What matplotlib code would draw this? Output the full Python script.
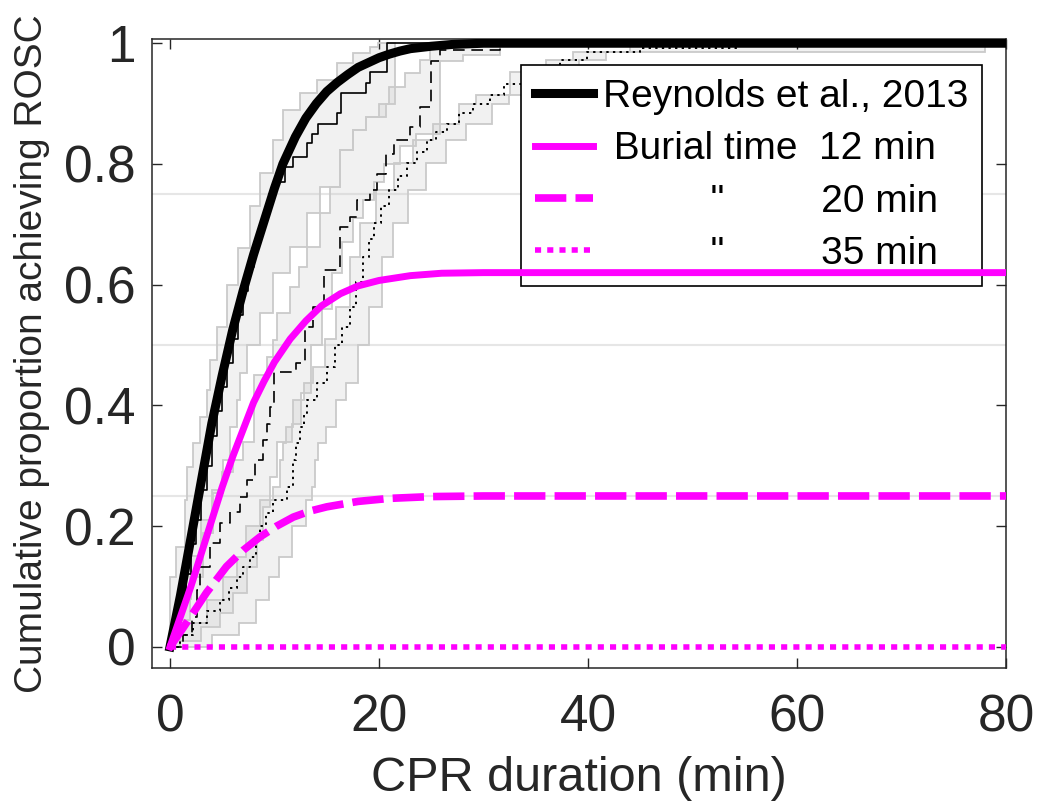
import numpy as np
import matplotlib
matplotlib.use('Agg')
import matplotlib.pyplot as plt

plt.rcParams['font.family'] = ['Liberation Sans', 'DejaVu Sans']

# model curves (Reynolds fit and burial-time curves)
t_rey = [0, 1, 2, 3, 4, 5, 6, 7, 8, 9, 10, 10.8, 12, 13, 14, 15, 16, 17, 18, 19, 20, 21, 22, 23, 25, 27, 30, 80]
v_rey = [0, 0.085, 0.18, 0.275, 0.37, 0.45, 0.525, 0.59, 0.65, 0.705, 0.76, 0.80, 0.845, 0.876, 0.90, 0.92, 0.935, 0.948,
         0.96, 0.968, 0.976, 0.982, 0.987, 0.991, 0.995, 0.998, 1.0, 1.0]

t_b12 = [0, 1, 2, 3, 4, 5, 6, 7, 8, 9, 10, 11.5, 13, 14.5, 16.3, 18, 20, 23, 26, 30, 80]
v_b12 = [0, 0.05, 0.1, 0.155, 0.21, 0.265, 0.315, 0.36, 0.405, 0.44, 0.472, 0.51, 0.54, 0.565, 0.585, 0.598, 0.607,
         0.615, 0.619, 0.62, 0.62]

t_b20 = [0, 1.2, 2.2, 3.5, 5.4, 7.0, 8.6, 10.2, 11.8, 13.4, 15.0, 18.0, 21.0, 25.0, 30.0, 80.0]
v_b20 = [0, 0.03, 0.056, 0.09, 0.133, 0.16, 0.182, 0.2, 0.215, 0.225, 0.232, 0.241, 0.246, 0.249, 0.25, 0.25]

t_b35 = [0, 80.0]
v_b35 = [0, 0]

# Kaplan-Meier style step curves
t_km1 = [0, 0.5, 1.0, 1.5, 2.0, 2.5, 3.0, 3.5, 4.0, 4.5, 5.0, 5.5, 6.0, 6.5, 7.0, 7.5, 8.0, 8.5, 9.0, 9.5, 10.0,
         11.0, 11.8, 13.1, 13.6, 14.2, 16.0, 16.4, 18.8, 19.1, 20.8, 80.0]
v_km1 = [0, 0.03, 0.07, 0.12, 0.17, 0.21, 0.26, 0.30, 0.35, 0.39, 0.43, 0.47, 0.51, 0.55, 0.59, 0.63, 0.66, 0.69, 0.72, 0.75, 0.77,
         0.795, 0.812, 0.834, 0.85, 0.867, 0.884, 0.917, 0.934, 0.953, 1.0, 1.0]

t_km2 = [0, 1.2, 2.1, 2.6, 2.9, 3.8, 4.8, 5.7, 6.7, 7.4, 8.1, 8.9, 9.3, 9.6, 10.0, 12.1, 12.9, 13.7, 14.7, 16.3, 17.2,
         17.9, 19.1, 19.8, 20.7, 21.4, 23.0, 23.9, 25.0, 25.8, 31.6, 80.0]
v_km2 = [0, 0.02, 0.05, 0.094, 0.133, 0.172, 0.205, 0.224, 0.249, 0.276, 0.31, 0.343, 0.37, 0.398, 0.455, 0.47, 0.53, 0.563, 0.624, 0.696, 0.712,
         0.74, 0.757, 0.784, 0.817, 0.84, 0.861, 0.894, 0.97, 0.988, 1.0, 1.0]

t_km3 = [0, 1.0, 2.2, 3.5, 4.8, 5.6, 6.4, 7.0, 7.7, 8.2, 8.6, 9.2, 9.9, 11.2, 11.8, 12.1, 12.4, 12.8, 13.1, 14.1, 15.0,
         15.8, 16.5, 17.2, 17.8, 18.5, 19.0, 19.5, 20.2, 21.0, 21.8, 22.7, 23.6, 24.6, 25.5, 26.5, 27.7, 29.0, 30.6,
         32.0, 33.8, 35.5, 37.3, 39.9, 45.0, 54.5]
v_km3 = [0, 0.02, 0.04, 0.06, 0.078, 0.097, 0.116, 0.132, 0.149, 0.175, 0.2, 0.222, 0.243, 0.265, 0.31, 0.337, 0.364, 0.387, 0.409, 0.437, 0.464,
         0.5, 0.53, 0.563, 0.605, 0.646, 0.675, 0.702, 0.73, 0.757, 0.78, 0.801, 0.82, 0.839, 0.853, 0.867, 0.884, 0.9, 0.914,
         0.932, 0.952, 0.962, 0.972, 0.985, 0.992, 0.997]

# confidence bands (upper / lower edges)
t_km1_up = [0, 0.6, 1.4, 1.6, 2.2, 2.9, 3.5, 3.8, 4.5, 5.5, 6.5, 7.7, 8.6, 9.9, 10.8, 12.4, 14.1, 16.0, 17.5, 19.1, 19.9]
v_km1_up = [0.116, 0.166, 0.243, 0.298, 0.337, 0.381, 0.425, 0.475, 0.53, 0.6, 0.66, 0.73, 0.785, 0.84, 0.889, 0.917, 0.939, 0.967, 0.983, 0.993, 1.0]
t_km1_lo = [0, 1.0, 1.9, 3.2, 4.1, 5.1, 5.7, 6.4, 6.7, 7.4, 8.6, 9.9, 11.5, 13.1, 14.4, 16.3, 17.5, 18.8, 20.7, 21.5]
v_km1_lo = [0, 0.045, 0.116, 0.189, 0.255, 0.31, 0.364, 0.409, 0.453, 0.5, 0.553, 0.619, 0.662, 0.718, 0.762, 0.823, 0.856, 0.878, 0.9, 1.0]

t_km2_up = [0, 0.5, 1.0, 2.0, 3.0, 4.0, 5.0, 6.0, 7.0, 8.0, 9.3, 9.9, 10.2, 11.5, 12.3, 13.1, 14.4, 15.3, 16.3, 17.5, 18.8,
            20.0, 21.0, 22.5, 23.9, 24.9]
v_km2_up = [0, 0.05, 0.08, 0.15, 0.21, 0.26, 0.29, 0.31, 0.34, 0.45, 0.48, 0.508, 0.553, 0.596, 0.63, 0.662, 0.718, 0.762, 0.823, 0.856, 0.878,
            0.9, 0.927, 0.95, 0.972, 1.0]
t_km2_lo = [0, 1.0, 3.0, 4.8, 6.0, 7.4, 8.3, 8.9, 9.6, 10.2, 11.7, 12.5, 13.5, 14.5, 15.5, 16.5, 17.5, 18.5, 19.5, 20.5,
            22.0, 23.5, 25.8, 28.0, 31.6]
v_km2_lo = [0, 0.01, 0.033, 0.056, 0.089, 0.133, 0.177, 0.232, 0.281, 0.34, 0.37, 0.42, 0.5, 0.56, 0.62, 0.67, 0.71, 0.74, 0.77, 0.8,
            0.83, 0.85, 0.97, 0.98, 1.0]

t_km3_up = [0, 1.0, 3.5, 5.1, 6.4, 7.3, 8.6, 9.9, 10.5, 10.8, 11.1, 11.8, 12.8, 13.7, 14.8, 15.9, 17.2, 18.2, 19.7, 21.4,
            23.3, 25.2, 27.7, 29.3, 32.5, 36.0, 38.6, 44.0, 50.0]
v_km3_up = [0, 0.04, 0.078, 0.116, 0.149, 0.2, 0.243, 0.265, 0.31, 0.337, 0.364, 0.409, 0.437, 0.464, 0.51, 0.563, 0.646, 0.702, 0.757, 0.801,
            0.839, 0.867, 0.9, 0.914, 0.952, 0.972, 0.985, 0.995, 1.0]
t_km3_lo = [0, 4.0, 6.6, 8.2, 9.5, 10.4, 11.7, 13.0, 13.6, 13.9, 14.2, 14.9, 15.9, 16.8, 18.0, 19.0, 20.3, 21.3, 22.8, 24.5,
            26.4, 28.3, 30.8, 32.4, 35.6, 39.1, 41.7, 78.0]
v_km3_lo = [0, 0.02, 0.04, 0.078, 0.116, 0.149, 0.2, 0.243, 0.265, 0.31, 0.337, 0.364, 0.409, 0.437, 0.5, 0.563, 0.646, 0.702, 0.757, 0.801,
            0.839, 0.867, 0.9, 0.914, 0.952, 0.972, 0.985, 0.985]

y_grid = [0.25, 0.5, 0.75]
x_ticks = [0, 20, 40, 60, 80]
y_ticks = [0, 0.2, 0.4, 0.6, 0.8, 1.0]
y_ticklabels = ['0', '0.2', '0.4', '0.6', '0.8', '1']

legend_labels = ['Reynolds et al., 2013',
                 ' Burial time  12 min',
                 '          "         20 min',
                 '          "         35 min']

MAGENTA = '#ff00ff'
TXT = '#262626'


def step_path(t, v, t_end):
    # post-step outline of a KM edge, extended flat to t_end
    t = list(t) + [t_end]
    v = list(v) + [v[-1]]
    xs = np.repeat(t, 2)[1:]
    ys = np.repeat(v, 2)[:-1]
    return xs, ys


def band(ax, t_up, v_up, t_lo, v_lo):
    t_end = max(t_up[-1], t_lo[-1])
    xu, yu = step_path(t_up, v_up, t_end)
    xl, yl = step_path(t_lo, v_lo, t_end)
    xs = np.concatenate([xu, xl[::-1]])
    ys = np.concatenate([yu, yl[::-1]])
    ax.fill(xs, ys, facecolor='0.80', alpha=0.27, edgecolor='none', zorder=1)
    ax.fill(xs, ys, facecolor='none', edgecolor='#cacaca', lw=1.3, zorder=2)


fig = plt.figure(figsize=(10.39, 8.06), dpi=100)
ax = fig.add_axes([0.1463, 0.1712, 0.8220, 0.7804])

for g in y_grid:
    ax.axhline(g, color='#e6e6e6', lw=1.5, zorder=0)

band(ax, t_km1_up, v_km1_up, t_km1_lo, v_km1_lo)
band(ax, t_km2_up, v_km2_up, t_km2_lo, v_km2_lo)
band(ax, t_km3_up, v_km3_up, t_km3_lo, v_km3_lo)

ax.step(t_km1, v_km1, where='post', color='black', lw=1.2, zorder=3)
ax.step(t_km2, v_km2, where='post', color='black', lw=1.2, dashes=(7, 4), zorder=3)
ax.step(t_km3, v_km3, where='post', color='black', lw=1.4, dashes=(1.2, 2.2), zorder=3)

h1, = ax.plot(t_rey, v_rey, color='black', lw=6.5, solid_joinstyle='round', zorder=5)
h2, = ax.plot(t_b12, v_b12, color=MAGENTA, lw=5, solid_joinstyle='round', zorder=6)
h3, = ax.plot(t_b20, v_b20, color=MAGENTA, lw=5.5, dashes=(4.1, 1.2), dash_capstyle='butt', zorder=6)
h4, = ax.plot(t_b35, v_b35, color=MAGENTA, lw=4, dashes=(1.1, 1.1), dash_capstyle='butt', zorder=6)

ax.set_xlim(-1.72, 80)
ax.set_ylim(-0.035, 1.007)
ax.set_xticks(x_ticks)
ax.set_yticks(y_ticks)
ax.set_yticklabels(y_ticklabels)
ax.tick_params(direction='in', length=7, width=1, top=True, right=True,
               labelsize=37, colors=TXT, labelcolor=TXT)
ax.tick_params(axis='x', pad=18)
ax.tick_params(axis='y', pad=12)
for s in ax.spines.values():
    s.set_color(TXT)
    s.set_linewidth(1.1)

ax.set_xlabel('CPR duration (min)', fontsize=35, color=TXT, labelpad=10)
ax.set_ylabel('Cumulative proportion achieving ROSC', fontsize=28, color=TXT)
ax.yaxis.set_label_coords(-0.119, 0.5)

leg = ax.legend([h1, h2, h3, h4], legend_labels, loc='upper right',
                bbox_to_anchor=(982 / 1039, 1 - 65 / 806), bbox_transform=fig.transFigure,
                borderaxespad=0, fontsize=28, handlelength=1.5, handletextpad=0.25,
                labelspacing=0.42, borderpad=0.36, fancybox=False, framealpha=1,
                edgecolor='black')
leg.get_frame().set_linewidth(1.2)
for t in leg.get_texts():
    t.set_color('black')

fig.savefig('out.png', dpi=100)
